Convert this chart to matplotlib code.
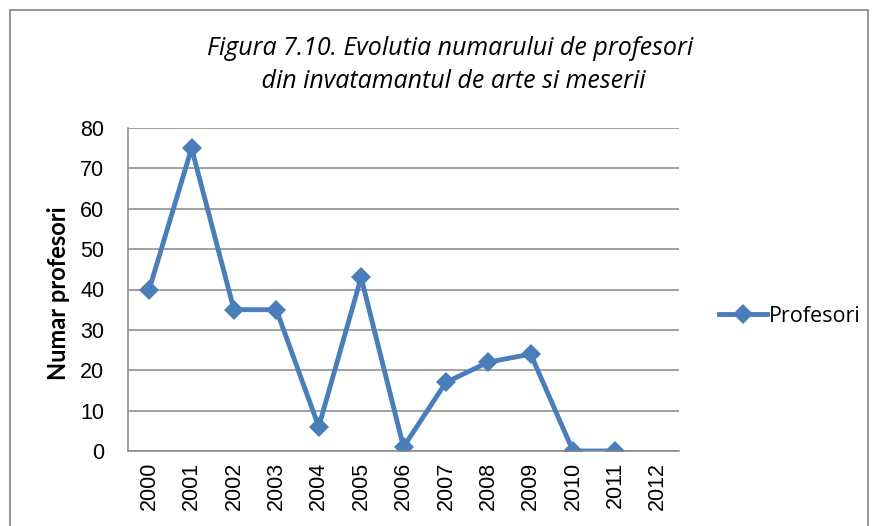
import numpy as np
import matplotlib
matplotlib.use("Agg")
import matplotlib.pyplot as plt
from matplotlib.patches import Rectangle
from matplotlib.lines import Line2D

years = ["2000", "2001", "2002", "2003", "2004", "2005", "2006",
         "2007", "2008", "2009", "2010", "2011", "2012"]
profesori = [40, 75, 35, 35, 6, 43, 1, 17, 22, 24, 0, 0, np.nan]
y_ticks = [0, 10, 20, 30, 40, 50, 60, 70, 80]

title_text = "Figura 7.10. Evolutia numarului de profesori\n din invatamantul de arte si meserii"
series_name = "Profesori"
y_label = "Numar profesori"

line_color = "#4A7EBB"
grid_color = "#878787"

fig = plt.figure(figsize=(8.73, 5.26), dpi=100)
ax = fig.add_axes([128 / 873, 1 - 451 / 526, 551 / 873, 323 / 526])

x = np.arange(len(years))
ax.plot(x, profesori, color=line_color, linewidth=3.5, marker="D",
        markersize=10, markeredgewidth=0, solid_joinstyle="miter")

ax.set_xlim(-0.5, len(years) - 0.5)
ax.set_ylim(0, 80)
ax.set_yticks(y_ticks)
ax.set_xticks(x)
ax.set_xticklabels(years, rotation=90, fontsize=15.5, family="Liberation Sans")
ax.set_yticklabels([str(v) for v in y_ticks], fontsize=15.5, family="Liberation Sans")
ax.tick_params(axis="x", length=0, pad=8)
ax.tick_params(axis="y", length=0, pad=17)

ax.grid(axis="y", color=grid_color, linewidth=1.1)
ax.set_axisbelow(True)
for side in ["top", "right"]:
    ax.spines[side].set_visible(False)
ax.spines["left"].set_color(grid_color)
ax.spines["bottom"].set_color(grid_color)
ax.spines["left"].set_linewidth(1.1)
ax.spines["bottom"].set_linewidth(1.1)

ax.set_ylabel(y_label, fontsize=17, fontweight="bold", family="Lato")
ax.yaxis.label.set_va("center")
ax.yaxis.set_label_coords(-70 / 551, 0.49)

fig.text(0.516, 1 - 65 / 526, title_text, ha="center", va="center",
         fontsize=18, style="italic", family="Open Sans", linespacing=1.42)

handle = Line2D([], [], color=line_color, linewidth=3.5, marker="D",
                markersize=10, markeredgewidth=0)
fig.legend([handle], [series_name], loc="center left",
           bbox_to_anchor=(700 / 873, 1 - 316 / 526), frameon=False,
           prop={"family": "Open Sans", "size": 15.5}, handlelength=2.2,
           handletextpad=0.1)

border = Rectangle((10 / 873, -0.05), 858 / 873, 1.05 - 10 / 526,
                   transform=fig.transFigure, fill=False,
                   edgecolor="#8C8C8C", linewidth=1.3, clip_on=False)
fig.patches.append(border)

fig.savefig("out.png", dpi=100)
